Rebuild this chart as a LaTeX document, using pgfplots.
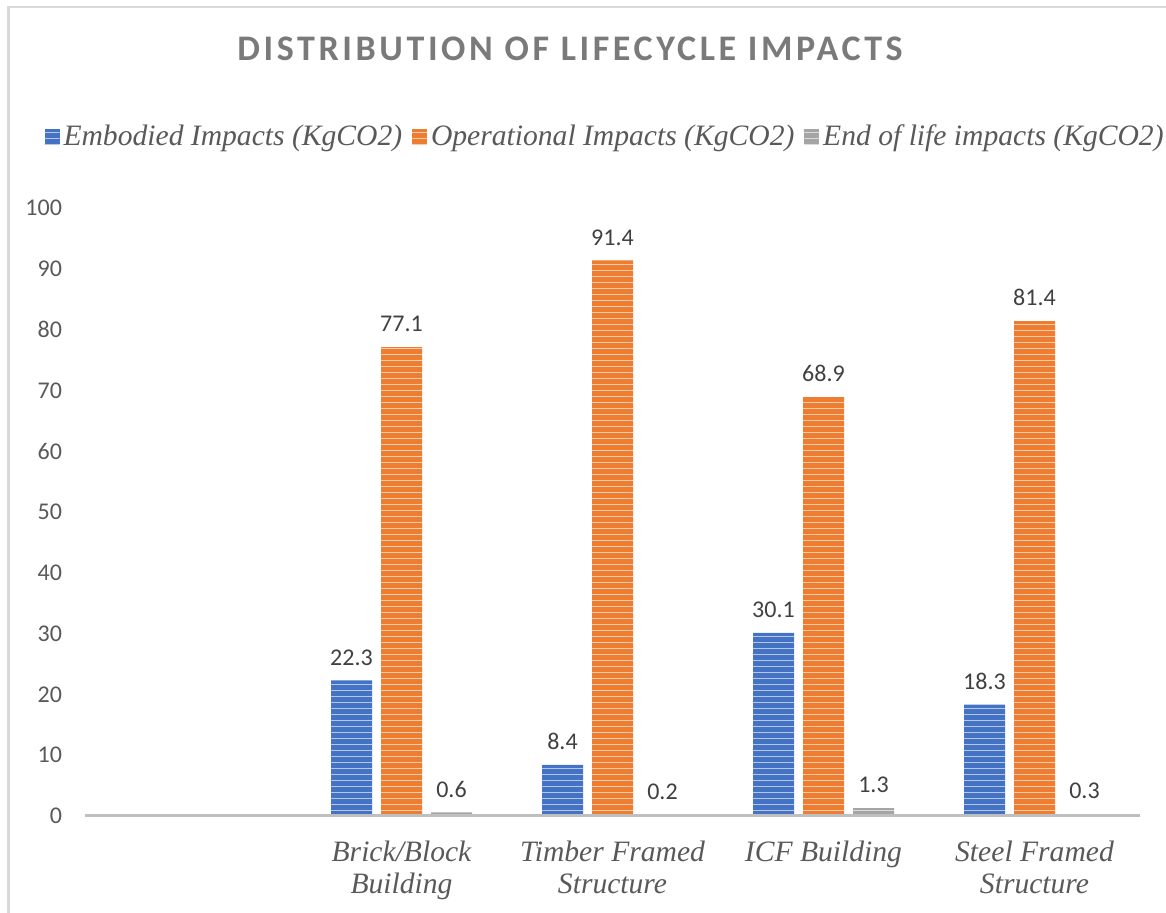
\documentclass[border=0pt]{standalone}
\usepackage{pgfplots}
\pgfplotsset{compat=1.18}
\usetikzlibrary{patterns}
\usepackage{fontspec}
\setmainfont{Liberation Serif}
\newfontfamily\calibri{Carlito}
\newfontfamily\titlefont[LetterSpace=10]{Carlito}
\definecolor{cblue}{HTML}{4472C4}
\definecolor{corange}{HTML}{ED7D31}
\definecolor{cgray}{HTML}{A5A5A5}
\definecolor{txt}{HTML}{595959}
\definecolor{ttl}{HTML}{7A7A7A}
\definecolor{lbl}{HTML}{404040}
\definecolor{axisgray}{HTML}{BFBFBF}
\definecolor{framegray}{HTML}{D9D9D9}
\begin{document}
\begin{tikzpicture}
\path[use as bounding box] (0,0) rectangle (583pt,456.5pt);
\draw[framegray, line width=1.2pt] (4.3pt,0) -- (4.3pt,453pt) -- (583pt,453pt);
\node[font=\titlefont\bfseries\fontsize{18}{21}\selectfont, text=ttl] at (285pt,432pt) {DISTRIBUTION OF LIFECYCLE IMPACTS};
\begin{axis}[
  at={(42.5pt,48.5pt)}, anchor=south west,
  scale only axis,
  width=527.5pt, height=304pt,
  ymin=0, ymax=100,
  xmin=-0.5, xmax=4.5,
  ybar=4.5pt, bar width=20.5pt,
  axis line style={draw=none},
  major tick length=0pt,
  ytick={0,10,...,100},
  xtick={0,1,2,3,4},
  xticklabels={{},{Brick/Block\\Building},{Timber Framed\\Structure},{ICF Building},{Steel Framed\\Structure}},
  xticklabel style={font=\itshape\fontsize{14.8}{16.2}\selectfont, text=txt, align=center, yshift=-9pt},
  yticklabel style={font=\calibri\fontsize{12}{14}\selectfont, text=txt, xshift=-8pt},
  /pgf/number format/assume math mode=true,
  nodes near coords,
  nodes near coords style={font=\calibri\fontsize{12}{14}\selectfont, text=lbl, yshift=4pt, /pgf/number format/fixed, /pgf/number format/precision=1, /pgf/number format/fixed zerofill, /pgf/number format/assume math mode=true},
  legend columns=3,
  legend style={draw=none, at={(0.494,1.117)}, anchor=center, font=\itshape\fontsize{14.8}{17}\selectfont, text=txt, /tikz/every even column/.append style={column sep=3pt}},
  legend image code/.code={\fill[#1] (0pt,-3.7pt) rectangle (7.4pt,3.7pt);},
  clip=false,
]
\addplot[draw=none, fill=cblue, postaction={pattern=horizontal lines, pattern color=white!60!cblue}] coordinates {(1,22.3) (2,8.4) (3,30.1) (4,18.3)};
\addplot[draw=none, fill=corange, postaction={pattern=horizontal lines, pattern color=white!60!corange}] coordinates {(1,77.1) (2,91.4) (3,68.9) (4,81.4)};
\addplot[draw=none, fill=cgray, postaction={pattern=horizontal lines, pattern color=white!60!cgray}] coordinates {(1,0.6) (2,0.2) (3,1.3) (4,0.3)};
\legend{Embodied Impacts (KgCO2),Operational Impacts (KgCO2),End of life impacts (KgCO2)}
\draw[axisgray, line width=1.5pt] (axis cs:-0.5,0) -- (axis cs:4.5,0);
\end{axis}
\end{tikzpicture}
\end{document}
